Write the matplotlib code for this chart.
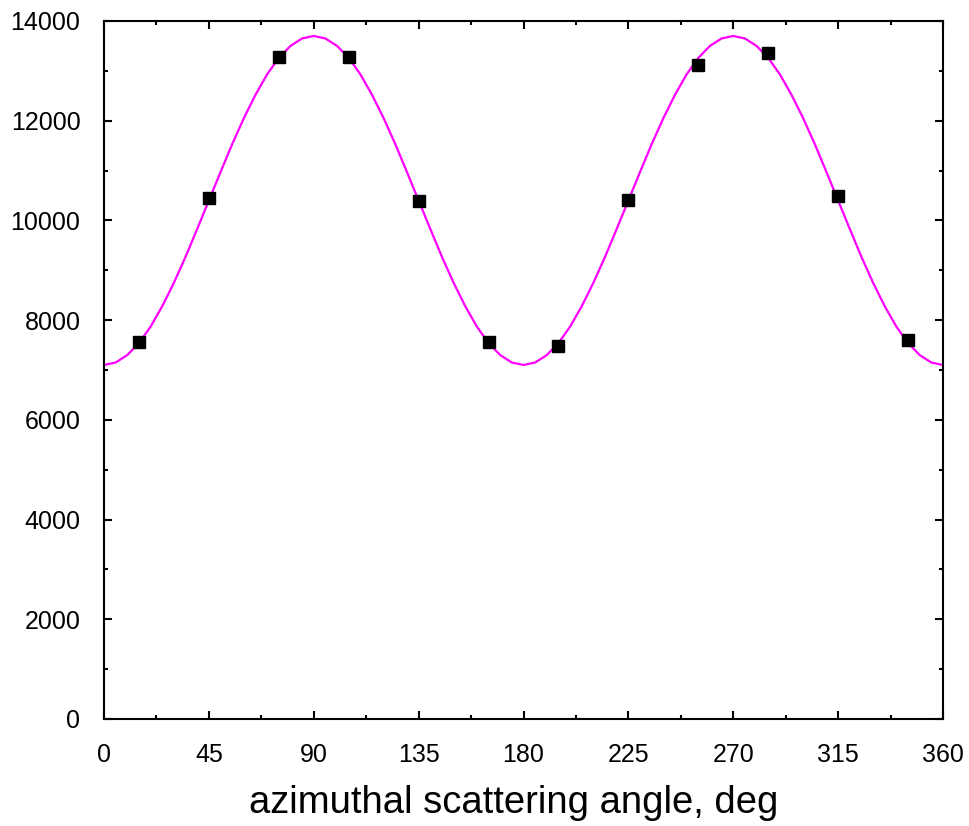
import matplotlib
matplotlib.use("Agg")
import matplotlib.pyplot as plt
from matplotlib.ticker import MultipleLocator

plt.rcParams['font.family'] = ['Liberation Sans', 'DejaVu Sans']

# measured points
angles = [15, 45, 75, 105, 135, 165, 195, 225, 255, 285, 315, 345]
counts = [7560, 10450, 13280, 13280, 10380, 7570, 7490, 10400, 13120, 13360, 10490, 7600]

# fitted curve, read at 5-degree steps
curve_angles = list(range(0, 361, 5))
curve_values = [
    7100, 7150, 7300, 7540, 7870, 8280, 8750, 9270, 9830, 10400, 10970, 11530,
    12050, 12520, 12930, 13260, 13500, 13650, 13700, 13650, 13500, 13260, 12930,
    12520, 12050, 11530, 10970, 10400, 9830, 9270, 8750, 8280, 7870, 7540, 7300,
    7150, 7100,
    7150, 7300, 7540, 7870, 8280, 8750, 9270, 9830, 10400, 10970, 11530,
    12050, 12520, 12930, 13260, 13500, 13650, 13700, 13650, 13500, 13260, 12930,
    12520, 12050, 11530, 10970, 10400, 9830, 9270, 8750, 8280, 7870, 7540, 7300,
    7150, 7100,
]

x_ticks = [0, 45, 90, 135, 180, 225, 270, 315, 360]
y_ticks = [0, 2000, 4000, 6000, 8000, 10000, 12000, 14000]
x_label = "azimuthal scattering angle, deg"

fig = plt.figure(figsize=(9.69, 8.26), dpi=100)
ax = fig.add_axes([104/969, 1-719/826, (943-104)/969, (719-21)/826])

ax.plot(curve_angles, curve_values, color='#ff00ff', lw=1.6, zorder=2)
ax.plot(angles, counts, 's', color='black', markersize=9, zorder=3)

ax.set_xlim(0, 360)
ax.set_ylim(0, 14000)
ax.set_xticks(x_ticks)
ax.set_yticks(y_ticks)
ax.xaxis.set_minor_locator(MultipleLocator(22.5))
ax.yaxis.set_minor_locator(MultipleLocator(1000))
ax.tick_params(which='both', direction='in', top=True, right=True, width=1.5)
ax.tick_params(which='major', length=6)
ax.tick_params(which='minor', length=3)
ax.tick_params(axis='x', which='major', labelsize=18, pad=17)
ax.tick_params(axis='y', which='major', labelsize=18, pad=17)
for s in ax.spines.values():
    s.set_linewidth(1.5)

ax.set_xlabel(x_label, fontsize=27.5, labelpad=13)
ax.xaxis.set_label_coords(0.5 - 10/839, -0.1, transform=None) if False else None
ax.xaxis.label.set_x(0.5 - 10/839)

fig.savefig("out.png", dpi=100)
